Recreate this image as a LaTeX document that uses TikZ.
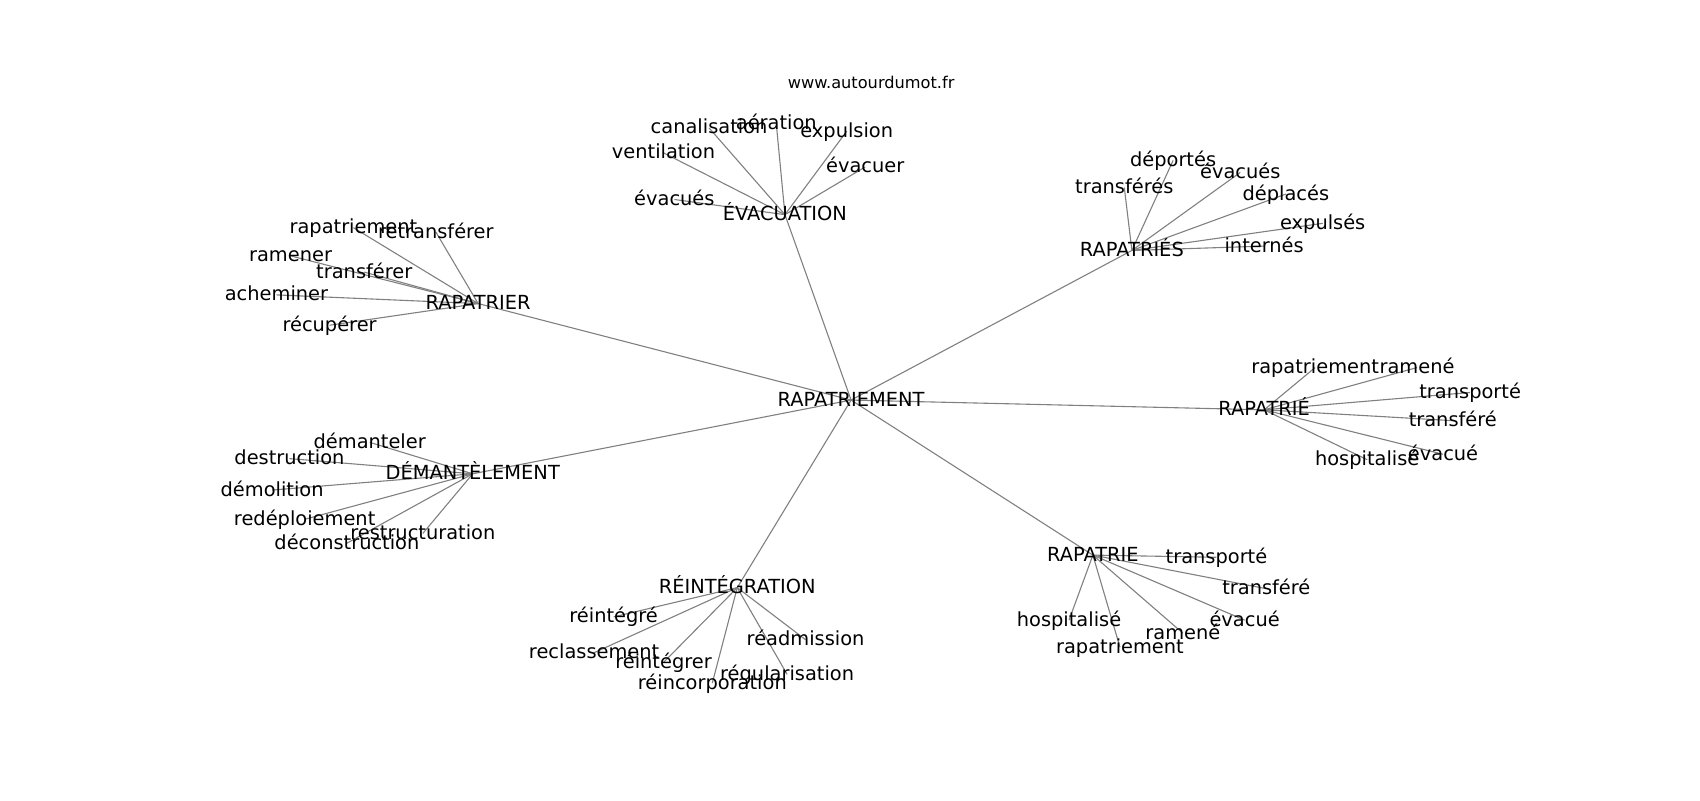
\documentclass[tikz,border=0pt]{standalone}
\usepackage{fontspec}
\setmainfont{DejaVu Sans}
\pgfdeclarelayer{bg}
\pgfsetlayers{bg,main}

\begin{document}
\begin{tikzpicture}[x=1.0842pt, y=-1.0842pt,
    word/.style={font=\fontsize{19.4}{22}\selectfont, inner sep=0pt, text height=1.2em, text depth=0pt},
    link/.style={draw=gray, line width=1.1pt}]

    \useasboundingbox (0,0) rectangle (1568,737.9);

    \node [font=\fontsize{16.2}{19}\selectfont, inner sep=0pt] (source) at (803.5,76.5) {www.autourdumot.fr};

    \node [word] (rapatriement) at (785,369) {RAPATRIEMENT};

    % ÉVACUATION
    \node [word] (evacuation) at (724,198) {ÉVACUATION};
    \node [word] (canalisation) at (654,118) {canalisation};
    \node [word] (aeration) at (716,114) {aération};
    \node [word] (expulsion) at (781,121) {expulsion};
    \node [word] (ventilation) at (612,141) {ventilation};
    \node [word] (evacuer) at (798,154) {évacuer};
    \node [word] (evacuesA) at (622,184) {évacués};

    % RAPATRIER
    \node [word] (rapatrier) at (441,280) {RAPATRIER};
    \node [word] (rapatriementA) at (326,210) {rapatriement};
    \node [word] (retransferer) at (402,214) {retransférer};
    \node [word] (ramener) at (268,236) {ramener};
    \node [word] (transferer) at (336,251) {transférer};
    \node [word] (acheminer) at (255,272) {acheminer};
    \node [word] (recuperer) at (304,300) {récupérer};

    % RAPATRIÉS
    \node [word] (rapatriesN) at (1044,231) {RAPATRIÉS};
    \node [word] (deportes) at (1082,148) {déportés};
    \node [word] (transferes) at (1037,173) {transférés};
    \node [word] (evacuesB) at (1144,159) {évacués};
    \node [word] (deplaces) at (1186,179) {déplacés};
    \node [word] (expulses) at (1220,206) {expulsés};
    \node [word] (internes) at (1166,227) {internés};

    % RAPATRIÉ
    \node [word] (rapatrieE) at (1166,378) {RAPATRIÉ};
    \node [word] (rapatriementB) at (1213,339) {rapatriement};
    \node [word] (rameneA) at (1307,339) {ramené};
    \node [word] (transporteA) at (1356,362) {transporté};
    \node [word] (transfereA) at (1340,388) {transféré};
    \node [word] (evacueA) at (1331,419) {évacué};
    \node [word] (hospitaliseA) at (1261,424) {hospitalisé};

    % DÉMANTÈLEMENT
    \node [word] (demantelement) at (436,437) {DÉMANTÈLEMENT};
    \node [word] (demanteler) at (341,408) {démanteler};
    \node [word] (destruction) at (267,423) {destruction};
    \node [word] (demolition) at (251,452) {démolition};
    \node [word] (redeploiement) at (281,479) {redéploiement};
    \node [word] (restructuration) at (390,492) {restructuration};
    \node [word] (deconstruction) at (320,501) {déconstruction};

    % RÉINTÉGRATION
    \node [word] (reintegration) at (680,542) {RÉINTÉGRATION};
    \node [word] (reintegre) at (566,569) {réintégré};
    \node [word] (reclassement) at (548,602) {reclassement};
    \node [word] (reintegrer) at (612,611) {réintégrer};
    \node [word] (reincorporation) at (657,630) {réincorporation};
    \node [word] (regularisation) at (726,622) {régularisation};
    \node [word] (readmission) at (743,590) {réadmission};

    % RAPATRIE
    \node [word] (rapatrie) at (1008,512) {RAPATRIE};
    \node [word] (transporteB) at (1122,514) {transporté};
    \node [word] (transfereB) at (1168,543) {transféré};
    \node [word] (evacueB) at (1148,572) {évacué};
    \node [word] (rameneB) at (1091,584) {ramené};
    \node [word] (rapatriementC) at (1033,597) {rapatriement};
    \node [word] (hospitaliseB) at (986,572) {hospitalisé};

    \begin{pgfonlayer}{bg}
    \foreach \n in {evacuation, rapatrier, rapatriesN, rapatrieE, demantelement, reintegration, rapatrie}
        \draw [link] (rapatriement.center) -- (\n.center);
    \foreach \n in {canalisation, aeration, expulsion, ventilation, evacuer, evacuesA}
        \draw [link] (evacuation.center) -- (\n.center);
    \foreach \n in {rapatriementA, retransferer, ramener, transferer, acheminer, recuperer}
        \draw [link] (rapatrier.center) -- (\n.center);
    \foreach \n in {deportes, transferes, evacuesB, deplaces, expulses, internes}
        \draw [link] (rapatriesN.center) -- (\n.center);
    \foreach \n in {rapatriementB, rameneA, transporteA, transfereA, evacueA, hospitaliseA}
        \draw [link] (rapatrieE.center) -- (\n.center);
    \foreach \n in {demanteler, destruction, demolition, redeploiement, restructuration, deconstruction}
        \draw [link] (demantelement.center) -- (\n.center);
    \foreach \n in {reintegre, reclassement, reintegrer, reincorporation, regularisation, readmission}
        \draw [link] (reintegration.center) -- (\n.center);
    \foreach \n in {transporteB, transfereB, evacueB, rameneB, rapatriementC, hospitaliseB}
        \draw [link] (rapatrie.center) -- (\n.center);
    \end{pgfonlayer}

\end{tikzpicture}
\end{document}
